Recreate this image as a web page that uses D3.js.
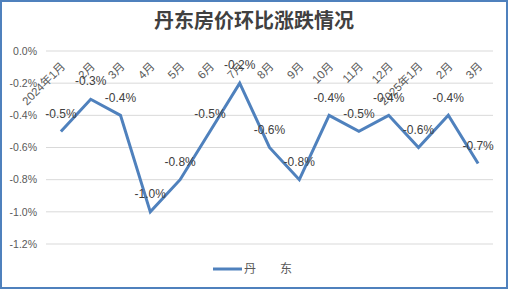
<!DOCTYPE html>
<html>
<head>
<meta charset="utf-8">
<script src="https://cdn.jsdelivr.net/npm/d3@7"></script>
<style>
  body { margin: 0; background: #fff; }
  text { font-family: "Liberation Sans", "Noto Sans CJK SC", sans-serif; }
</style>
</head>
<body>
<div id="chart"></div>
<script>
const months = ['2024年1月', '2月', '3月', '4月', '5月', '6月', '7月', '8月', '9月', '10月', '11月', '12月', '2025年1月', '2月', '3月'];
const values = [-0.5, -0.3, -0.4, -1.0, -0.8, -0.5, -0.2, -0.6, -0.8, -0.4, -0.5, -0.4, -0.6, -0.4, -0.7];
const yTicks = [0, -0.2, -0.4, -0.6, -0.8, -1.0, -1.2];
const title = '丹东房价环比涨跌情况';
const seriesName = '丹　　东';

const width = 508, height = 289;
const margin = { top: 51, right: 15, bottom: 45, left: 46 };

// plain hyphen, like the original, not d3's unicode minus
const pct = d => d.toFixed(1) + '%';

const svg = d3.select('#chart').append('svg')
    .attr('width', width)
    .attr('height', height);

// outer border
svg.append('rect')
    .attr('x', 1).attr('y', 1)
    .attr('width', width - 2).attr('height', height - 2)
    .attr('fill', '#fff')
    .attr('stroke', '#4f81bd')
    .attr('stroke-width', 2);

svg.append('text')
    .attr('x', width / 2)
    .attr('y', 28)
    .attr('text-anchor', 'middle')
    .attr('font-family', '"Noto Sans CJK SC", sans-serif')
    .attr('font-weight', 'bold')
    .attr('font-size', 20)
    .attr('fill', '#404040')
    .text(title);

const x = d3.scaleBand()
    .domain(d3.range(months.length))
    .range([margin.left, width - margin.right]);

const y = d3.scaleLinear()
    .domain([-1.2, 0])
    .range([height - margin.bottom, margin.top]);

// gridlines
svg.append('g')
    .selectAll('line')
    .data(yTicks)
    .enter()
    .append('line')
    .attr('x1', margin.left)
    .attr('x2', width - margin.right)
    .attr('y1', d => y(d))
    .attr('y2', d => y(d))
    .attr('stroke', '#d9d9d9')
    .attr('stroke-width', 1);

// y axis labels
svg.append('g')
    .selectAll('text')
    .data(yTicks)
    .enter()
    .append('text')
    .attr('x', 37)
    .attr('y', d => y(d))
    .attr('dy', '0.35em')
    .attr('text-anchor', 'end')
    .attr('font-size', 10.5)
    .attr('fill', '#595959')
    .text(pct);

// category labels, rotated, hanging from the zero line
svg.append('g')
    .selectAll('text')
    .data(months)
    .enter()
    .append('text')
    .attr('transform', (d, i) => 'translate(' + (x(i) + x.bandwidth() / 2 + 5) + ',' + (y(0) + 16) + ') rotate(-45)')
    .attr('text-anchor', 'end')
    .attr('font-size', 11.5)
    .attr('fill', '#595959')
    .text(d => d);

const line = d3.line()
    .x((d, i) => x(i) + x.bandwidth() / 2)
    .y(d => y(d));

svg.append('path')
    .datum(values)
    .attr('d', line)
    .attr('fill', 'none')
    .attr('stroke', '#4f81bd')
    .attr('stroke-width', 3)
    .attr('stroke-linejoin', 'miter');

// data labels
svg.append('g')
    .selectAll('text')
    .data(values)
    .enter()
    .append('text')
    .attr('x', (d, i) => x(i) + x.bandwidth() / 2)
    .attr('y', d => y(d) - 18)
    .attr('dy', '0.35em')
    .attr('text-anchor', 'middle')
    .attr('font-size', 12)
    .attr('fill', '#404040')
    .text(pct);

// legend
const legend = svg.append('g');
legend.append('line')
    .attr('x1', 213).attr('x2', 242)
    .attr('y1', 269).attr('y2', 269)
    .attr('stroke', '#4f81bd')
    .attr('stroke-width', 3);
legend.append('text')
    .attr('x', 244)
    .attr('y', 269)
    .attr('dy', '0.35em')
    .attr('font-size', 12)
    .attr('fill', '#595959')
    .text(seriesName);
</script>
</body>
</html>
